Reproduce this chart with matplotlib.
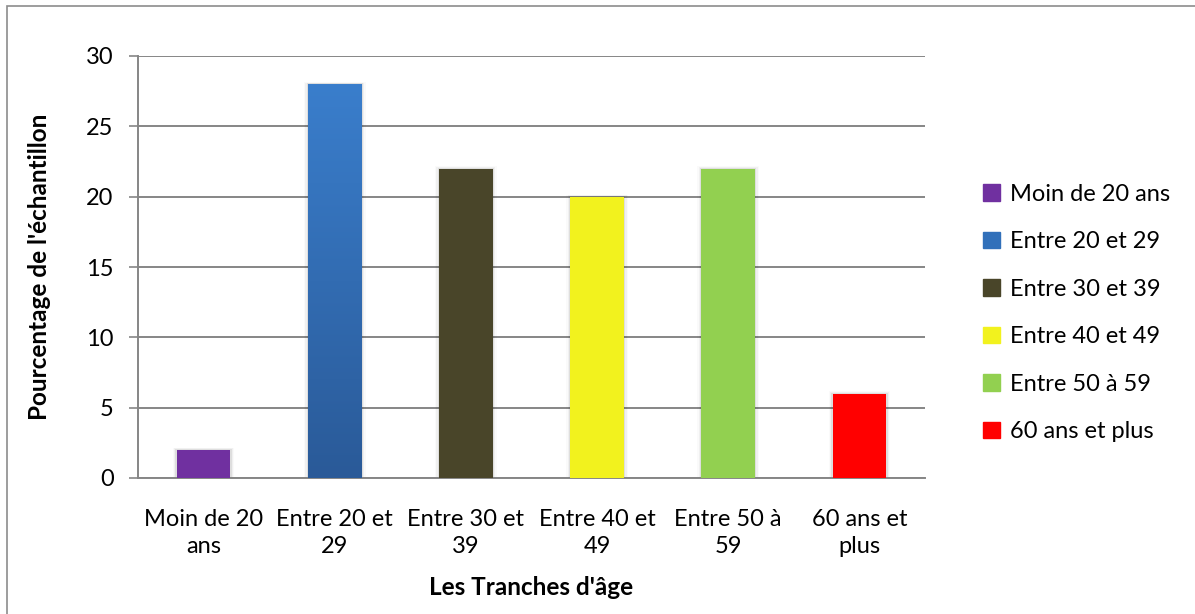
import matplotlib.pyplot as plt
import matplotlib.patches as mpatches
import numpy as np
from matplotlib.colors import LinearSegmentedColormap

plt.rcParams['font.family'] = ['Lato', 'DejaVu Sans']

categories = ["Moin de 20\nans", "Entre 20 et\n29", "Entre 30 et\n39",
              "Entre 40 et\n49", "Entre 50 à\n59", "60 ans et\nplus"]
legend_labels = ["Moin de 20 ans", "Entre 20 et 29", "Entre 30 et 39",
                 "Entre 40 et 49", "Entre 50 à 59", "60 ans et plus"]
values = [2, 28, 22, 20, 22, 6]
colors = ["#7030A0", "#3170BA", "#494529", "#F2F21E", "#92D050", "#FF0000"]

fig = plt.figure(figsize=(11.95, 6.14), dpi=100)
ax = fig.add_axes([138 / 1195, 1 - 478 / 614, 787 / 1195, 422 / 614])

# outer chart frame
fig.add_artist(mpatches.Rectangle((7 / 1195, -0.01), 1.0, 1 - 6 / 614 + 0.01,
                                  transform=fig.transFigure, fill=False,
                                  edgecolor="#8c8c8c", linewidth=1.2))

x = np.arange(len(values))
bars = ax.bar(x, values, width=0.41, color=colors, zorder=3)

# soft shadow behind each bar
for b in bars:
    for i, a in enumerate([0.07, 0.04, 0.02]):
        off = 0.01 * (i + 1)
        ax.add_patch(mpatches.Rectangle((b.get_x() - off, 0),
                                        b.get_width() + off * 2,
                                        b.get_height() + off * 5,
                                        color="black", alpha=a, lw=0, zorder=2))

# vertical gradient on the second bar
blue = bars[1]
cmap = LinearSegmentedColormap.from_list("blue", ["#2A5A98", "#3A7ECC"])
grad = np.linspace(0, 1, 256).reshape(-1, 1)
im = ax.imshow(grad, cmap=cmap, aspect="auto", origin="lower", zorder=3.5,
               extent=[blue.get_x(), blue.get_x() + blue.get_width(), 0, blue.get_height()])
im.set_clip_path(blue)

ax.set_xlim(-0.5, len(values) - 0.5)
ax.set_ylim(0, 30)
ax.set_yticks(range(0, 31, 5))
ax.set_xticks(x)
ax.set_xticklabels(categories, fontsize=17, linespacing=1.38)
ax.tick_params(axis="y", labelsize=17, length=6.5, width=1.2, color="#868686", pad=11)
ax.tick_params(axis="x", length=0, pad=22)
ax.grid(axis="y", color="#868686", linewidth=1.4, zorder=1)
ax.set_axisbelow(True)
for s in ["top", "right"]:
    ax.spines[s].set_visible(False)
for s in ["left", "bottom"]:
    ax.spines[s].set_color("#868686")
    ax.spines[s].set_linewidth(1.4)

ax.set_ylabel("Pourcentage de l'échantillon", fontsize=17.5, fontweight="bold", labelpad=25)
ax.set_xlabel("Les Tranches d'âge", fontsize=17.5, fontweight="bold", labelpad=14)

handles = [mpatches.Patch(color=c) for c in colors]
fig.legend(handles, legend_labels, loc="center left", bbox_to_anchor=(962 / 1195, 1 - 313 / 614),
           frameon=False, fontsize=17, handlelength=0.7, handleheight=0.7,
           handletextpad=0.45, labelspacing=1.12)

fig.savefig("out.png", dpi=100)
